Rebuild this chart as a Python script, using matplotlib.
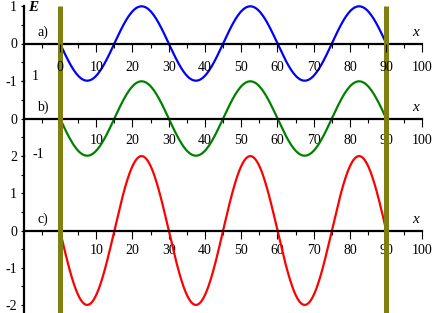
import numpy as np
import matplotlib.pyplot as plt
from matplotlib.ticker import FixedLocator

# Data: three sine curves on 0..90
panels = ['a)', 'b)', 'c)']
amplitudes = [1, 1, 2]
period = 30
x_start, x_end = 0, 90
colors = ['#0000ff', '#008000', '#ff0000']
x_ticks = [0, 10, 20, 30, 40, 50, 60, 70, 80, 90, 100]
x_minor = [-10, -5, 5, 15, 25, 35, 45, 55, 65, 75, 85, 95]
bar_positions = [0, 90]

plt.rcParams['font.family'] = ['Liberation Serif', 'DejaVu Serif']
plt.rcParams['font.size'] = 10
plt.rcParams['axes.unicode_minus'] = False

W, H = 435, 313
fig = plt.figure(figsize=(W / 100, H / 100), dpi=100)

# pixel layout (x=0 at 60px, 36.25 px per 10 units; 37.2 px per y unit)
px_x0, px_per_x = 60.0, 3.625
px_per_y = 37.2
zero_rows = [43.5, 118.5, 230.5]
xlim = (-px_x0 / px_per_x, (W - px_x0) / px_per_x)

x = np.linspace(x_start, x_end, 600)
axes = []
for i in range(3):
    ax = fig.add_axes([0, 0, 1, 1])
    ax.set_facecolor('none')
    ax.set_zorder(1 + (2 - i))
    ax.set_xlim(*xlim)
    y0 = zero_rows[i]
    ax.set_ylim(-(H - y0) / px_per_y, y0 / px_per_y)
    axes.append(ax)

    y = -amplitudes[i] * np.sin(2 * np.pi * x / period)
    ax.plot(x, y, color=colors[i], lw=1.6, zorder=2)

    for s in ['top', 'right']:
        ax.spines[s].set_visible(False)
    ax.spines['bottom'].set_position(('data', 0))
    ax.spines['bottom'].set_bounds(-10, 100)
    ax.spines['left'].set_position(('data', -10))
    ax.spines['bottom'].set_linewidth(1.6)
    ax.spines['left'].set_linewidth(1.6)

    ax.set_xticks(x_ticks)
    labels = [str(t) for t in x_ticks]
    if i > 0:
        labels[0] = ''
    ax.set_xticklabels(labels)
    ax.xaxis.set_minor_locator(FixedLocator(x_minor))
    ax.tick_params(axis='x', which='major', length=5.8, width=0.8, direction='out',
                   pad=[7, 5, 4][i])
    ax.tick_params(axis='x', which='minor', length=2.9, width=0.8, direction='out')
    ax.tick_params(axis='y', which='both', length=2.2, width=0.8, direction='out', pad=2.5)

    ax.text(-4.7, 0.3, panels[i], ha='center', va='center', fontsize=10)
    ax.text(98, 0.3, 'x', ha='center', va='center', fontsize=11, style='italic')

ax_a, ax_b, ax_c = axes

ax_a.set_yticks([-1, 0, 1])
ax_a.yaxis.set_minor_locator(FixedLocator([-0.5, 0.5]))
ax_a.spines['left'].set_bounds(-1, 1)
ax_a.text(-7.4, 0.97, 'E', ha='center', va='center', fontsize=11,
          style='italic', weight='bold')

ax_b.set_yticks([-1, 0, 1])
ax_b.set_yticklabels(['', '0', ''])
ax_b.yaxis.set_minor_locator(FixedLocator([-0.5, 0.5]))
ax_b.spines['left'].set_bounds(-1, 1)
ax_b.text(-6.9, 1.12, '1', ha='center', va='center', fontsize=10)
ax_b.text(-6.1, -0.97, '-1', ha='center', va='center', fontsize=10)

ax_c.set_yticks([-2, -1, 0, 1, 2])
ax_c.yaxis.set_minor_locator(FixedLocator([-1.5, -0.5, 0.5, 1.5]))
ax_c.spines['left'].set_bounds(ax_c.get_ylim()[0], 2)

# olive vertical bars on top of everything below panel a's tick labels
ax_a.vlines(bar_positions, ax_a.get_ylim()[0], 1, color='#808010', lw=3.6, zorder=3)
ax_a.xaxis.set_zorder(3.5)

fig.savefig('out.png', dpi=100)
